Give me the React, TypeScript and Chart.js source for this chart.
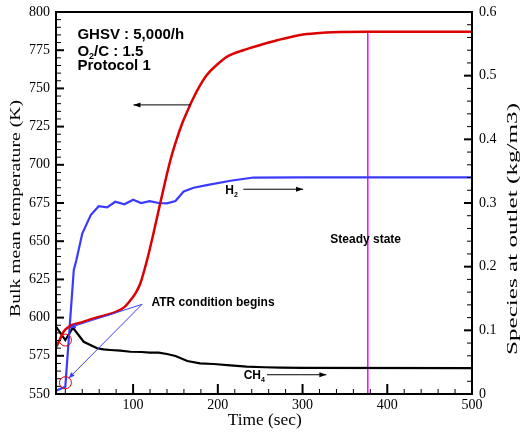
import React, { useEffect, useRef } from 'react';
import { Chart, registerables } from 'chart.js';

Chart.register(...registerables);

// ---- data ----
const tempTime = [9, 13, 18, 26, 40, 53.5, 67, 81, 90, 97, 103, 108.6, 116.5, 124, 132, 144, 151, 158, 164, 170, 178, 187, 198, 211, 230, 250, 270, 297, 320, 336, 376, 500];
const tempK = [580.5, 585, 590.8, 594.7, 597, 599.5, 601.5, 604, 607, 611.5, 616, 622.5, 637.7, 655, 674.8, 703, 716, 727.2, 735, 742.4, 751, 758.8, 765, 770.8, 775, 778.4, 781.5, 785, 786.3, 786.8, 787.1, 787.1];

const h2Time = [9, 20, 30, 33, 40, 50, 59.4, 69.3, 79, 89.7, 100, 109.4, 119.6, 130, 140, 150, 159.7, 171.5, 187, 215, 242, 297, 500];
const h2Val = [0.005, 0.0115, 0.195, 0.21, 0.252, 0.281, 0.295, 0.293, 0.302, 0.298, 0.305, 0.3, 0.303, 0.3, 0.2995, 0.303, 0.318, 0.324, 0.328, 0.335, 0.34, 0.3403, 0.3403];

const ch4Time = [9, 20, 29, 41.7, 57.5, 65, 73, 85, 97, 110, 120, 130, 140, 150, 164, 179, 195, 215, 234, 255, 274, 300, 500];
const ch4Val = [0.1057, 0.0848, 0.104, 0.082, 0.0718, 0.07, 0.0691, 0.068, 0.0664, 0.066, 0.0649, 0.065, 0.0628, 0.0597, 0.0518, 0.0482, 0.0471, 0.045, 0.0429, 0.042, 0.0413, 0.041, 0.0405];

const steadyTime = 377;
const steadyK = [787.1, 550];

const xTickValues = [100, 200, 300, 400, 500];
const xRange = [9, 500];
const tempRange = [550, 800];
const speciesRange = [0, 0.6];

// annotation anchors in data space (time, temperature K)
const infoLines = [
  { parts: [['GHSV : 5,000/h', false]], t: 34.3, k: 782.2 },
  { parts: [['O', false], ['2', true], ['/C : 1.5', false]], t: 34.3, k: 771.5 },
  { parts: [['Protocol 1', false]], t: 34.3, k: 762.1 },
];
const tempArrow = { from: [167.6, 739.2], to: [100.4, 739.2] };
const h2Label = { t: 208.9, k: 680.9, arrowFrom: [230.1, 684], arrowTo: [300.6, 684] };
const ch4Label = { t: 230.5, k: 559.6, arrowFrom: [258.1, 562.6], arrowTo: [328.1, 562.6] };
const steadyLabel = { t: 332.8, k: 648.6 };
const atrLabel = { t: 121.7, k: 607.6 };
const atrOrigin = [110.6, 608.7];
const atrTargets = [[25.2, 593.4], [24, 560.3]];
const atrCircles = [[20.1, 585.3], [20.1, 557.4]];

const SANS = '"Liberation Sans", Arial, sans-serif';
const SERIF = '"Liberation Serif", "Times New Roman", serif';

function pts(xs: number[], ys: number[]) {
  return xs.map((x, i) => ({ x, y: ys[i] }));
}

function drawArrow(ctx: CanvasRenderingContext2D, x1: number, y1: number, x2: number, y2: number, color: string, len = 7, hw = 2.5) {
  ctx.strokeStyle = color;
  ctx.fillStyle = color;
  ctx.lineWidth = 1;
  ctx.beginPath();
  ctx.moveTo(x1, y1);
  ctx.lineTo(x2, y2);
  ctx.stroke();
  const a = Math.atan2(y2 - y1, x2 - x1);
  ctx.beginPath();
  ctx.moveTo(x2, y2);
  ctx.lineTo(x2 - len * Math.cos(a) + hw * Math.sin(a), y2 - len * Math.sin(a) - hw * Math.cos(a));
  ctx.lineTo(x2 - len * Math.cos(a) - hw * Math.sin(a), y2 - len * Math.sin(a) + hw * Math.cos(a));
  ctx.closePath();
  ctx.fill();
}

function drawParts(ctx: CanvasRenderingContext2D, parts: any[], x: number, y: number, size: number) {
  let cx = x;
  ctx.textAlign = 'left';
  ctx.textBaseline = 'alphabetic';
  ctx.fillStyle = '#000';
  for (const [txt, sub] of parts) {
    const s = sub ? Math.round(size * 0.62) : size;
    ctx.font = `bold ${s}px ${SANS}`;
    ctx.fillText(txt, cx, sub ? y + size * 0.22 : y);
    cx += ctx.measureText(txt).width;
  }
}

function stretchText(ctx: CanvasRenderingContext2D, text: string, cx: number, cy: number, rot: number, font: string, target: number) {
  ctx.save();
  ctx.font = font;
  const w = ctx.measureText(text).width;
  ctx.translate(cx, cy);
  ctx.rotate(rot);
  ctx.scale(target / w, 1);
  ctx.textAlign = 'center';
  ctx.textBaseline = 'middle';
  ctx.fillStyle = '#000';
  ctx.fillText(text, 0, 0);
  ctx.restore();
}

const decoPlugin = {
  id: 'deco',
  afterDraw(chart: any) {
    const { ctx, chartArea: a, scales } = chart;
    const xs = scales.x, yl = scales.y, yr = scales.y2;
    const X = (v: number) => xs.getPixelForValue(v);
    const Y = (v: number) => yl.getPixelForValue(v);
    ctx.save();
    ctx.strokeStyle = '#000';
    const tick = (x1: number, y1: number, x2: number, y2: number, w: number) => {
      ctx.lineWidth = w;
      ctx.beginPath();
      ctx.moveTo(x1, y1);
      ctx.lineTo(x2, y2);
      ctx.stroke();
    };
    // inward ticks
    for (let v = 20; v <= xRange[1]; v += 20) {
      const px = X(v);
      const major = v % 100 === 0;
      tick(px, a.bottom, px, a.bottom - (major ? 10 : 5), major ? 2 : 1);
    }
    for (let v = tempRange[0]; v <= tempRange[1]; v += 5) {
      const py = Y(v);
      const major = v % 25 === 0;
      tick(a.left, py, a.left + (major ? 8 : 5), py, major ? 2 : 1);
    }
    for (let i = 0; i <= 30; i++) {
      const py = yr.getPixelForValue(i * 0.02);
      const major = i % 5 === 0;
      tick(a.right, py, a.right - (major ? 8 : 5), py, major ? 2 : 1);
    }
    // frame
    ctx.lineWidth = 2;
    ctx.strokeRect(a.left, a.top, a.right - a.left, a.bottom - a.top);

    // axis titles
    stretchText(ctx, 'Time (sec)', 264.7, 420.7, 0, `17px ${SERIF}`, 74);
    stretchText(ctx, 'Bulk mean temperature (K)', 16, 208.5, -Math.PI / 2, `15px ${SERIF}`, 217);
    stretchText(ctx, 'Species at outlet (kg/m3)', 513, 229, -Math.PI / 2, `15px ${SERIF}`, 252);

    // info block
    for (const l of infoLines) drawParts(ctx, l.parts, X(l.t), Y(l.k), 15);

    // temperature arrow
    drawArrow(ctx, X(tempArrow.from[0]), Y(tempArrow.from[1]), X(tempArrow.to[0]), Y(tempArrow.to[1]), '#000');

    // H2
    drawParts(ctx, [['H', false], ['2', true]], X(h2Label.t), Y(h2Label.k), 12);
    drawArrow(ctx, X(h2Label.arrowFrom[0]), Y(h2Label.arrowFrom[1]), X(h2Label.arrowTo[0]), Y(h2Label.arrowTo[1]), '#000');
    // CH4
    drawParts(ctx, [['CH', false], ['4', true]], X(ch4Label.t), Y(ch4Label.k), 12);
    drawArrow(ctx, X(ch4Label.arrowFrom[0]), Y(ch4Label.arrowFrom[1]), X(ch4Label.arrowTo[0]), Y(ch4Label.arrowTo[1]), '#000');
    // Steady state
    drawParts(ctx, [['Steady state', false]], X(steadyLabel.t), Y(steadyLabel.k), 12);
    // ATR
    drawParts(ctx, [['ATR condition begins', false]], X(atrLabel.t), Y(atrLabel.k), 12);
    for (const tg of atrTargets) {
      drawArrow(ctx, X(atrOrigin[0]), Y(atrOrigin[1]), X(tg[0]), Y(tg[1]), '#3b3bff', 6, 2.5);
    }
    ctx.strokeStyle = '#e00000';
    ctx.lineWidth = 1;
    for (const c of atrCircles) {
      ctx.beginPath();
      ctx.arc(X(c[0]), Y(c[1]), 6, 0, Math.PI * 2);
      ctx.stroke();
    }
    ctx.restore();
  },
};

export default function App() {
  const ref = useRef<HTMLCanvasElement | null>(null);
  useEffect(() => {
    document.body.style.margin = '0';
    const canvas = ref.current!;
    const chart = new Chart(canvas, {
      type: 'line',
      data: {
        datasets: [
          {
            label: 'Temperature',
            data: pts(tempTime, tempK),
            borderColor: '#dd0000',
            borderWidth: 2.5,
            pointRadius: 0,
            cubicInterpolationMode: 'monotone',
            yAxisID: 'y',
          },
          {
            label: 'H2',
            data: pts(h2Time, h2Val),
            borderColor: '#3a3aff',
            borderWidth: 2.2,
            pointRadius: 0,
            tension: 0,
            yAxisID: 'y2',
          },
          {
            label: 'CH4',
            data: pts(ch4Time, ch4Val),
            borderColor: '#000000',
            borderWidth: 2.2,
            pointRadius: 0,
            tension: 0,
            yAxisID: 'y2',
          },
          {
            label: 'Steady state',
            data: steadyK.map((k) => ({ x: steadyTime, y: k })),
            borderColor: '#ff00ff',
            borderWidth: 1.5,
            pointRadius: 0,
            yAxisID: 'y',
          },
        ],
      },
      options: {
        responsive: false,
        animation: false,
        layout: { padding: { top: 12, left: 0, right: 0, bottom: 0 } },
        plugins: { legend: { display: false }, tooltip: { enabled: false } },
        scales: {
          x: {
            type: 'linear',
            min: xRange[0],
            max: xRange[1],
            grid: { display: false, drawTicks: false },
            border: { display: false },
            ticks: { color: '#000', font: { family: SERIF, size: 14 }, padding: 3, maxRotation: 0 },
            afterBuildTicks: (s: any) => {
              s.ticks = xTickValues.map((v) => ({ value: v }));
            },
            afterFit: (s: any) => {
              s.height = 38;
            },
          },
          y: {
            type: 'linear',
            position: 'left',
            min: tempRange[0],
            max: tempRange[1],
            grid: { display: false, drawTicks: true, tickLength: 3 },
            border: { display: false },
            ticks: { stepSize: 25, color: '#000', font: { family: SERIF, size: 14 }, padding: 3 },
            afterFit: (s: any) => {
              s.width = 56;
            },
          },
          y2: {
            type: 'linear',
            position: 'right',
            min: speciesRange[0],
            max: speciesRange[1],
            grid: { display: false, drawTicks: true, tickLength: 4 },
            border: { display: false },
            ticks: { stepSize: 0.1, color: '#000', font: { family: SERIF, size: 14 }, padding: 3 },
            afterFit: (s: any) => {
              s.width = 51;
            },
          },
        },
      } as any,
      plugins: [decoPlugin],
    });
    return () => chart.destroy();
  }, []);
  return (
    <div style={{ width: 523, height: 432 }}>
      <canvas ref={ref} width={523} height={432} style={{ display: 'block' }} />
    </div>
  );
}
